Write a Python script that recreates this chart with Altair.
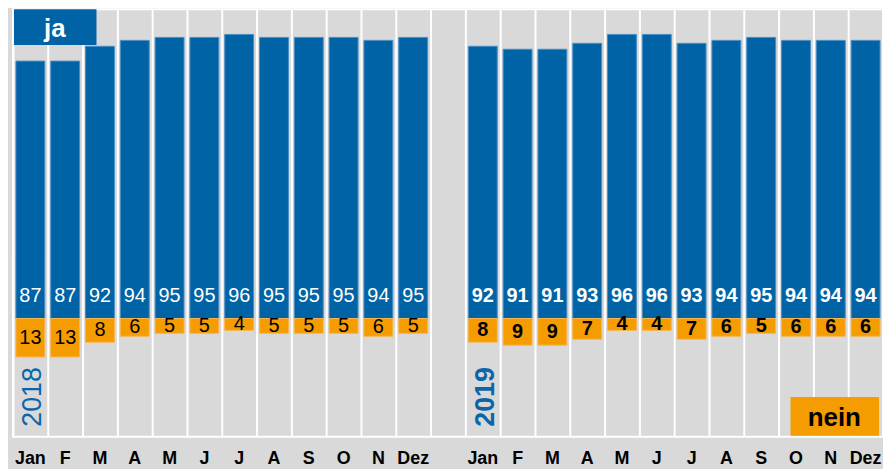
import altair as alt
import pandas as pd

# ---- data ----
months = ["Jan", "F", "M", "A", "M", "J", "J", "A", "S", "O", "N", "Dez"]
years = ["2018", "2019"]
ja_2018 = [87, 87, 92, 94, 95, 95, 96, 95, 95, 95, 94, 95]
nein_2018 = [13, 13, 8, 6, 5, 5, 4, 5, 5, 5, 6, 5]
ja_2019 = [92, 91, 91, 93, 96, 96, 93, 94, 95, 94, 94, 94]
nein_2019 = [8, 9, 9, 7, 4, 4, 7, 6, 5, 6, 6, 6]
legend_labels = ["ja", "nein"]

BLUE = "#0063a6"
ORANGE = "#f59c00"
BG = "#d9d9d9"
FONT = "Liberation Sans"

rows = []
for yi, (year, ja, nein) in enumerate(zip(years, [ja_2018, ja_2019], [nein_2018, nein_2019])):
    for mi, m in enumerate(months):
        rows.append(dict(col=yi * 13 + mi, year=year, month=m, ja=ja[mi], nein=nein[mi]))
df = pd.DataFrame(rows)
df["neg"] = -df["nein"]
df["mid"] = -df["nein"] / 2

year_df = pd.DataFrame({"year": years, "col": [0, 13]})

axis_labels = months + [""] + months
label_expr = "[" + ",".join(f"'{l}'" for l in axis_labels) + "][datum.value]"

xscale = alt.Scale(domain=list(range(25)), paddingInner=0, paddingOuter=0)
yscale = alt.Scale(domain=[-40, 104.5], nice=False, zero=False)

x_axis = alt.Axis(
    title=None, bandPosition=0, grid=True, gridColor="white", gridWidth=2,
    ticks=False, domain=False, labelExpr=label_expr,
    labelAngle=0, labelFont=FONT, labelFontSize=18, labelFontWeight="bold",
    labelColor="black", labelPadding=13, labelBaseline="top", labelOverlap=False,
)
X = alt.X("col:O", scale=xscale, axis=x_axis)

base = alt.Chart(df)

blue_bars = base.mark_bar(color=BLUE, stroke="#4a8ec6", strokeWidth=1,
                          width=alt.RelativeBandSize(0.83)).encode(
    x=X,
    y=alt.Y("ja:Q", scale=yscale, axis=None),
    y2=alt.Y2Datum(0),
)
orange_bars = base.mark_bar(color=ORANGE, stroke="#f7b451", strokeWidth=1,
                            width=alt.RelativeBandSize(0.83)).encode(
    x=X,
    y=alt.Y("neg:Q", scale=yscale, axis=None),
    y2=alt.Y2Datum(0),
)

def value_text(year, bold):
    w = "bold" if bold else "normal"
    blue_t = base.transform_filter(alt.datum.year == year).mark_text(
        color="white", font=FONT, fontSize=20, fontWeight=w, baseline="middle", align="center"
    ).encode(x=X, y=alt.YDatum(7.6, scale=yscale, axis=None), text="ja:Q")
    orange_t = base.transform_filter(alt.datum.year == year).mark_text(
        color="black", font=FONT, fontSize=20, fontWeight=w, baseline="middle", align="center"
    ).encode(x=X, y=alt.Y("mid:Q", scale=yscale, axis=None), text="nein:Q")
    yr = alt.Chart(year_df).transform_filter(alt.datum.year == year).mark_text(
        color="#0a65ab", font=FONT, fontSize=27, fontWeight=w, angle=270,
        baseline="middle", align="center", dy=3,
    ).encode(x=X, y=alt.YDatum(-26.5, scale=yscale, axis=None), text="year:N")
    return [blue_t, orange_t, yr]

ja_df = pd.DataFrame({"label": [legend_labels[0]]})
nein_df = pd.DataFrame({"label": [legend_labels[1]]})

ja_box = alt.Chart(ja_df).mark_rect(color=BLUE).encode(
    x=alt.value(1), x2=alt.value(84), y=alt.value(0), y2=alt.value(36))
ja_txt = alt.Chart(ja_df).mark_text(color="white", font=FONT, fontSize=26, fontWeight="bold",
                                    align="center", baseline="alphabetic").encode(
    x=alt.value(42), y=alt.value(28), text="label:N")
nein_box = alt.Chart(nein_df).mark_rect(color=ORANGE).encode(
    x=alt.value(782), x2=alt.value(871), y=alt.value(390), y2=alt.value(429))
nein_txt = alt.Chart(nein_df).mark_text(color="black", font=FONT, fontSize=26, fontWeight="bold",
                                        align="center", baseline="alphabetic").encode(
    x=alt.value(826), y=alt.value(419), text="label:N")

chart = alt.layer(
    blue_bars, orange_bars,
    *value_text("2018", False), *value_text("2019", True),
    ja_box, ja_txt, nein_box, nein_txt,
).properties(
    width=875, height=430,
    padding={"left": 5, "top": 0, "right": 0, "bottom": 0},
    background=BG,
).configure_view(fill=BG, stroke="white", strokeWidth=2)

chart.save("out.html", embed_options={"renderer": "svg", "actions": False})
